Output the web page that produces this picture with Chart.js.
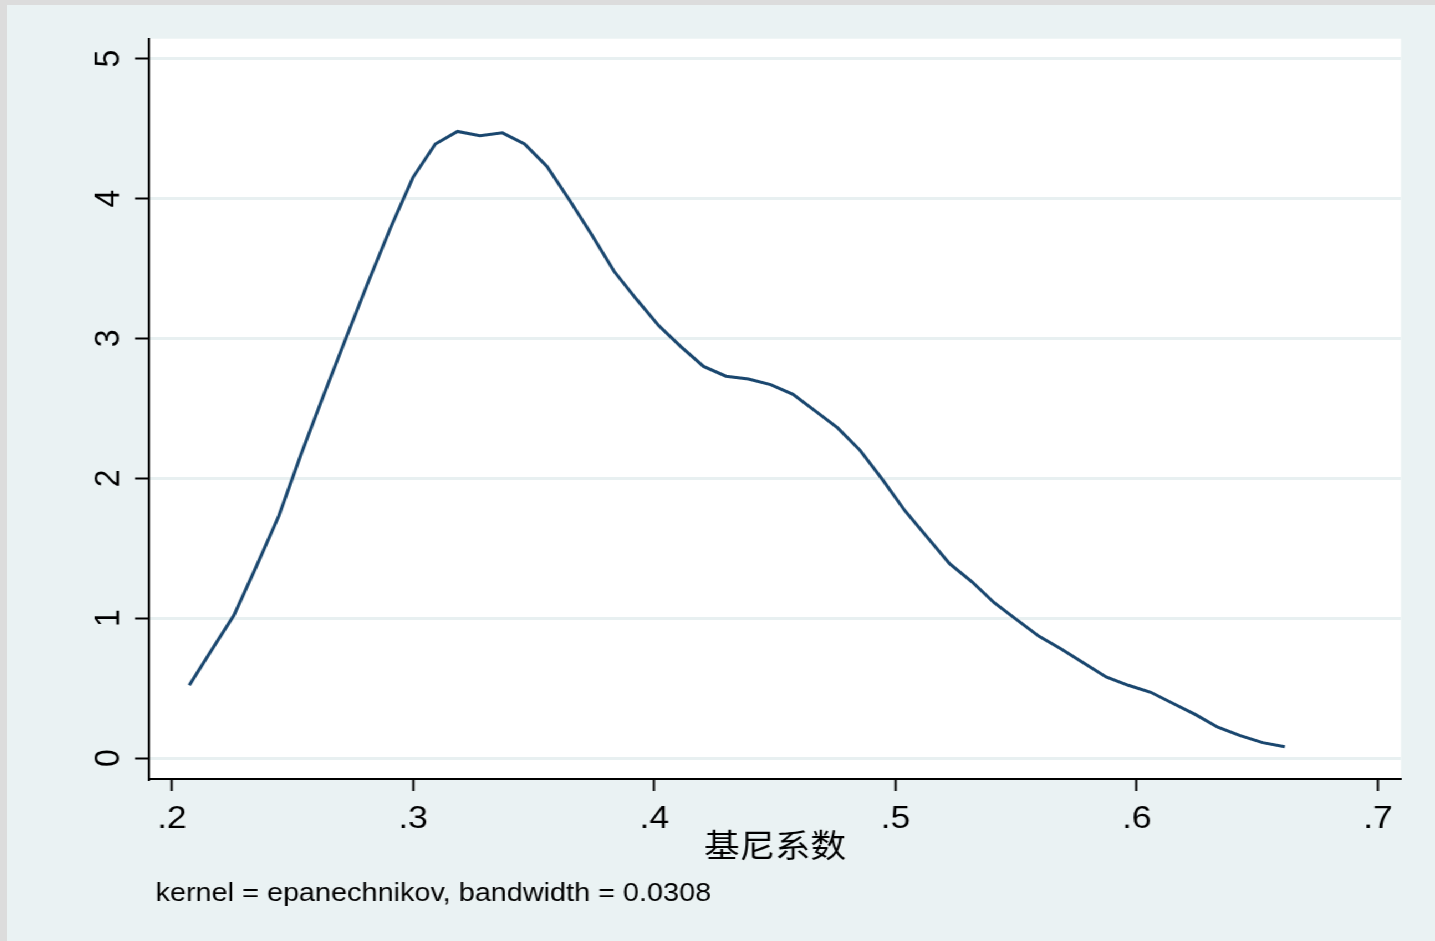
<!DOCTYPE html>
<html>
<head>
<meta charset="utf-8">
<script src="https://cdn.jsdelivr.net/npm/chart.js@4.4.0/dist/chart.umd.min.js"></script>
<style>
  html, body { margin: 0; padding: 0; background: #dcdcdc; overflow: hidden; }
  /* the reference is stretched sideways, so the whole graph is drawn narrower and scaled */
  #wrap { position: absolute; left: 7px; top: 5px; width: 1288px; height: 936px;
          background: #eaf2f3; transform: scaleX(1.1087); transform-origin: 0 0; }
</style>
</head>
<body>
<div id="wrap"><canvas id="c" width="1288" height="936"></canvas></div>
<script>
// kdensity grid (50 points) and estimated density
const giniGrid = [
  0.2072, 0.2164, 0.2257, 0.2350, 0.2443, 0.2535, 0.2628, 0.2721, 0.2813, 0.2906,
  0.2999, 0.3092, 0.3184, 0.3277, 0.3370, 0.3462, 0.3555, 0.3648, 0.3741, 0.3833,
  0.3926, 0.4019, 0.4111, 0.4204, 0.4297, 0.4390, 0.4482, 0.4575, 0.4668, 0.4760,
  0.4853, 0.4946, 0.5038, 0.5131, 0.5224, 0.5317, 0.5409, 0.5502, 0.5595, 0.5687,
  0.5780, 0.5873, 0.5965, 0.6058, 0.6151, 0.6244, 0.6336, 0.6429, 0.6522, 0.6614
]
const density = [
  0.52, 0.77, 1.02, 1.37, 1.73, 2.17, 2.59, 3.00, 3.40, 3.79,
  4.15, 4.39, 4.48, 4.45, 4.47, 4.39, 4.23, 3.99, 3.74, 3.48,
  3.28, 3.09, 2.94, 2.80, 2.73, 2.71, 2.67, 2.60, 2.48, 2.36,
  2.20, 1.99, 1.77, 1.58, 1.39, 1.26, 1.11, 0.99, 0.87, 0.78,
  0.68, 0.58, 0.52, 0.47, 0.39, 0.31, 0.22, 0.16, 0.11, 0.08
]

const xTicks = [0.2, 0.3, 0.4, 0.5, 0.6, 0.7]
const xTickLabels = ['.2', '.3', '.4', '.5', '.6', '.7']
const yTicks = [0, 1, 2, 3, 4, 5]
const yTickLabels = ['0', '1', '2', '3', '4', '5']
const xTitle = '基尼系数'
const noteText = 'kernel = epanechnikov, bandwidth = 0.0308'

const sansFont = "'Liberation Sans', Arial, sans-serif"

const plotBg = {
    id: 'plotBg',
    beforeDraw(chart) {
        const { ctx, chartArea: a } = chart
        ctx.save()
        ctx.fillStyle = '#ffffff'
        ctx.fillRect(a.left, a.top, a.right - a.left, a.bottom - a.top)
        ctx.restore()
    },
}

const note = {
    id: 'note',
    afterDraw(chart) {
        const ctx = chart.ctx
        ctx.save()
        ctx.font = '26px ' + sansFont
        ctx.fillStyle = '#000000'
        ctx.textBaseline = 'alphabetic'
        ctx.fillText(noteText, chart.chartArea.left + 6, 896)
        ctx.restore()
    },
}

const points = giniGrid.map((g, i) => ({ x: g, y: density[i] }))

new Chart(document.getElementById('c'), {
    type: 'line',
    data: {
        datasets: [{
            data: points,
            borderColor: '#1a476f',
            borderWidth: 3,
            pointRadius: 0,
            tension: 0,
            fill: false,
        }],
    },
    options: {
        responsive: false,
        animation: false,
        layout: { padding: { left: 0, right: 30.7, top: 31, bottom: 0 } },
        plugins: { legend: { display: false }, tooltip: { enabled: false } },
        scales: {
            x: {
                type: 'linear',
                min: 0.19046,
                max: 0.70954,
                afterBuildTicks: s => { s.ticks = xTicks.map(v => ({ value: v })) },
                afterFit: s => { s.height = 162 },
                ticks: {
                    callback: (v, i) => xTickLabels[i],
                    color: '#000000',
                    font: { family: sansFont, size: 32 },
                    padding: 9,
                    maxRotation: 0,
                    autoSkip: false,
                },
                grid: {
                    drawOnChartArea: false,
                    drawTicks: true,
                    tickLength: 12,
                    tickColor: '#000000',
                    tickWidth: 2,
                },
                border: { display: true, color: '#000000', width: 2 },
                title: {
                    display: true,
                    text: xTitle,
                    color: '#000000',
                    font: { family: "'Noto Sans CJK SC', sans-serif", size: 32 },
                    padding: { top: 0, bottom: 77 },
                },
            },
            y: {
                type: 'linear',
                min: -0.15,
                max: 5.143,
                afterBuildTicks: s => { s.ticks = yTicks.map(v => ({ value: v })) },
                afterFit: s => { s.width = 128 },
                ticks: {
                    callback: (v, i) => yTickLabels[i],
                    color: '#000000',
                    font: { family: sansFont, size: 32 },
                    minRotation: 90,
                    maxRotation: 90,
                    crossAlign: 'center',
                    padding: 14.5,
                    autoSkip: false,
                },
                grid: {
                    color: '#e8f0f1',
                    lineWidth: 3,
                    drawTicks: true,
                    tickLength: 12.6,
                    tickColor: '#000000',
                    tickWidth: 2,
                },
                border: { display: true, color: '#000000', width: 2 },
            },
        },
    },
    plugins: [plotBg, note],
})
</script>
</body>
</html>
